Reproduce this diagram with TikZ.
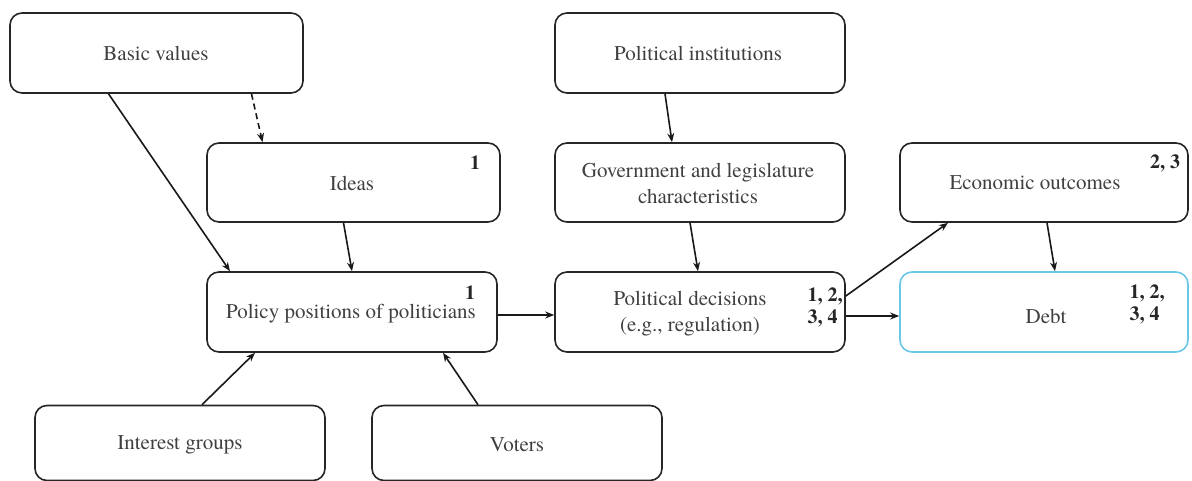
\documentclass[tikz,border=0pt]{standalone}
\usepackage{fontspec}
\setmainfont{texgyretermes}[Extension=.otf,UprightFont=*-regular,BoldFont=*-bold,ItalicFont=*-italic,BoldItalicFont=*-bolditalic]
\usetikzlibrary{arrows.meta}
\definecolor{debtblue}{RGB}{105,200,228}
\begin{document}
\begin{tikzpicture}[x=1pt,y=-1pt,
  box/.style={draw=black!85,line width=1.6pt,rounded corners=12pt,minimum height=80pt,inner sep=0pt,fill=white},
  txt/.style={font=\fontsize{21}{26}\selectfont,text=black!75,align=center,inner sep=0pt},
  num/.style={font=\fontsize{20}{22}\selectfont\bfseries,text=black!85,align=left,inner sep=0pt},
  arr/.style={line width=1.6pt,draw=black!90,-{Stealth[length=9pt,width=7pt]}},
]
\useasboundingbox (0,0) rectangle (1192,481);
\node[box,minimum width=293pt] (bv) at (156.5,53) {};
\node[box,minimum width=290pt] (pi) at (700,53) {};
\node[box,minimum width=293pt,minimum height=79pt] (id) at (353.5,182.5) {};
\node[box,minimum width=290pt,minimum height=79pt] (gl) at (700,182.5) {};
\node[box,minimum width=288pt,minimum height=79pt] (eo) at (1044,182.5) {};
\node[box,minimum width=290pt] (pp) at (352,312) {};
\node[box,minimum width=290pt] (pd) at (700,312) {};
\node[box,minimum width=288pt,draw=debtblue] (db) at (1044,312) {};
\node[box,minimum width=290pt,minimum height=75pt] (ig) at (180,443) {};
\node[box,minimum width=290pt,minimum height=75pt] (vo) at (517,443) {};

\node[txt] (tbv) at (156,53) {Basic values};
\node[txt] (tpi) at (698,53) {Political institutions};
\node[txt] (tid) at (352,183) {Ideas};
\node[txt] (tgl) at (698,183) {Government and legislature\\characteristics};
\node[txt] (teo) at (1035,183) {Economic outcomes};
\node[txt] (tpp) at (351,314) {Policy positions of politicians};
\node[txt] (tpd) at (690,314) {Political decisions\\(e.g., regulation)};
\node[txt] (tdb) at (1046,316) {Debt};
\node[txt] (tig) at (180,445) {Interest groups};
\node[txt] (tvo) at (517,445) {Voters};

\node[num] (nid) at (475,163) {1};
\node[num] (npp) at (470,293) {1};
\node[num] (neo) at (1165,163) {2, 3};
\node[num] (npd) at (825,307) {1, 2,\\3, 4};
\node[num] (ndb) at (1147,304) {1, 2,\\3, 4};

\draw[arr] ([xshift=-48pt]bv.south) -- ([xshift=-122pt]pp.north);
\draw[arr,dashed,dash pattern=on 6pt off 4pt] ([xshift=95pt]bv.south) -- ([xshift=-91pt]id.north);
\draw[arr] ([xshift=-10pt]id.south) -- (pp.north);
\draw[arr] ([xshift=-35pt]pi.south) -- ([xshift=-28pt]gl.north);
\draw[arr] ([xshift=-10pt]gl.south) -- ([xshift=-2pt]pd.north);
\draw[arr] ([yshift=-3pt]pp.east) -- ([yshift=-3pt]pd.west);
\draw[arr] ([yshift=16pt]pd.east) -- ([xshift=-96pt]eo.south);
\draw[arr] ([yshift=-4pt]pd.east) -- ([yshift=-4pt]db.west);
\draw[arr] ([xshift=3pt]eo.south) -- ([xshift=11pt]db.north);
\draw[arr] ([xshift=22pt]ig.north) -- ([xshift=-97pt]pp.south);
\draw[arr] ([xshift=-39pt]vo.north) -- ([xshift=91pt]pp.south);
\end{tikzpicture}
\end{document}
